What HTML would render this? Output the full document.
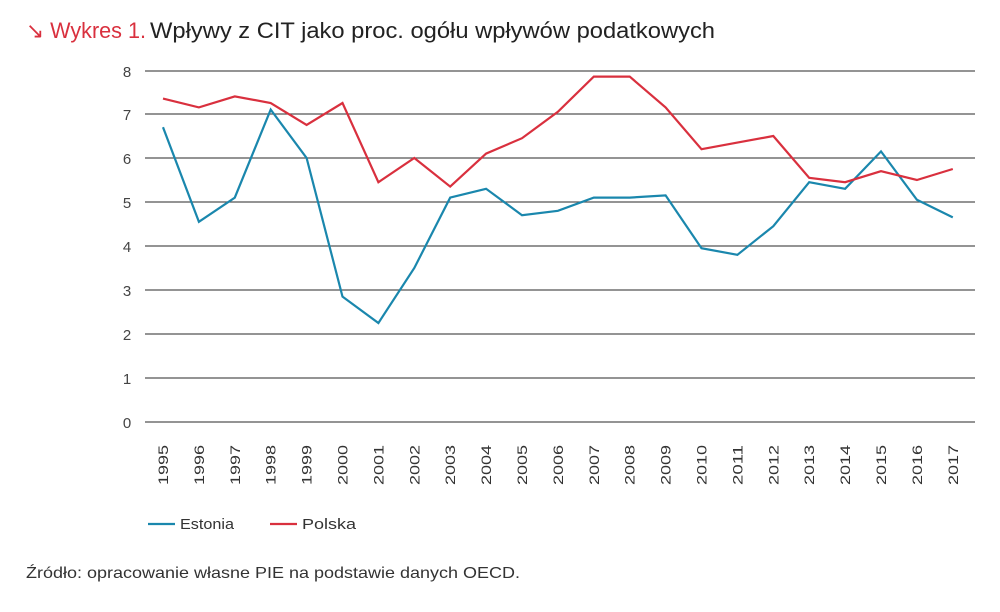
<!DOCTYPE html>
<html><head><meta charset="utf-8"><style>
body{margin:0;background:#fff;}
svg{display:block;font-family:"Liberation Sans",sans-serif;}
</style></head><body>
<svg width="1000" height="612" viewBox="0 0 1000 612">
<text x="26" y="38" font-size="22" fill="#d9303e" textLength="120" lengthAdjust="spacingAndGlyphs">↘ Wykres 1.</text>
<text x="150" y="38" font-size="22" fill="#222" textLength="565" lengthAdjust="spacingAndGlyphs">Wpływy z CIT jako proc. ogółu wpływów podatkowych</text>
<g stroke="#555" stroke-width="1.3">
<line x1="145" x2="975" y1="71" y2="71"/><line x1="145" x2="975" y1="114" y2="114"/>
<line x1="145" x2="975" y1="158" y2="158"/><line x1="145" x2="975" y1="202" y2="202"/>
<line x1="145" x2="975" y1="246" y2="246"/><line x1="145" x2="975" y1="290" y2="290"/>
<line x1="145" x2="975" y1="334" y2="334"/><line x1="145" x2="975" y1="378" y2="378"/>
<line x1="145" x2="975" y1="422" y2="422"/>
</g>
<g font-size="15" fill="#444" text-anchor="middle">
<text x="127" y="77">8</text><text x="127" y="120">7</text><text x="127" y="164">6</text>
<text x="127" y="208">5</text><text x="127" y="252">4</text><text x="127" y="296">3</text>
<text x="127" y="340">2</text><text x="127" y="384">1</text><text x="127" y="428">0</text>
</g>
<g font-size="14" fill="#333" id="xl"></g>
<polyline fill="none" stroke="#1a87ad" stroke-width="2.2" id="est"/>
<polyline fill="none" stroke="#d9303e" stroke-width="2.2" id="pol"/>
<line x1="148" x2="175" y1="524" y2="524" stroke="#1a87ad" stroke-width="2.2"/>
<text x="180" y="529" font-size="15" fill="#333" textLength="54" lengthAdjust="spacingAndGlyphs">Estonia</text>
<line x1="270" x2="297" y1="524" y2="524" stroke="#d9303e" stroke-width="2.2"/>
<text x="302" y="529" font-size="15" fill="#333" textLength="54" lengthAdjust="spacingAndGlyphs">Polska</text>
<text x="26" y="578" font-size="16" fill="#333" textLength="494" lengthAdjust="spacingAndGlyphs">Źródło: opracowanie własne PIE na podstawie danych OECD.</text>
</svg>
<script>
var e=[6.7,4.55,5.1,7.1,6.0,2.85,2.25,3.5,5.1,5.3,4.7,4.8,5.1,5.1,5.15,3.95,3.8,4.45,5.45,5.3,6.15,5.05,4.65];
var p=[7.35,7.15,7.4,7.25,6.75,7.25,5.45,6.0,5.35,6.1,6.45,7.05,7.85,7.85,7.15,6.2,6.35,6.5,5.55,5.45,5.7,5.5,5.75];
function pts(a){return a.map(function(v,i){return (163+i*35.9).toFixed(1)+","+(422-44*v).toFixed(1)}).join(" ")}
document.getElementById("est").setAttribute("points",pts(e));
document.getElementById("pol").setAttribute("points",pts(p));
var g=document.getElementById("xl"),s="";
for(var i=0;i<23;i++){var x=163+i*35.9+5;s+='<text transform="translate('+x+',485) rotate(-90)" textLength="40" lengthAdjust="spacingAndGlyphs">'+(1995+i)+'</text>';}
g.innerHTML=s;
</script>
</body></html>
